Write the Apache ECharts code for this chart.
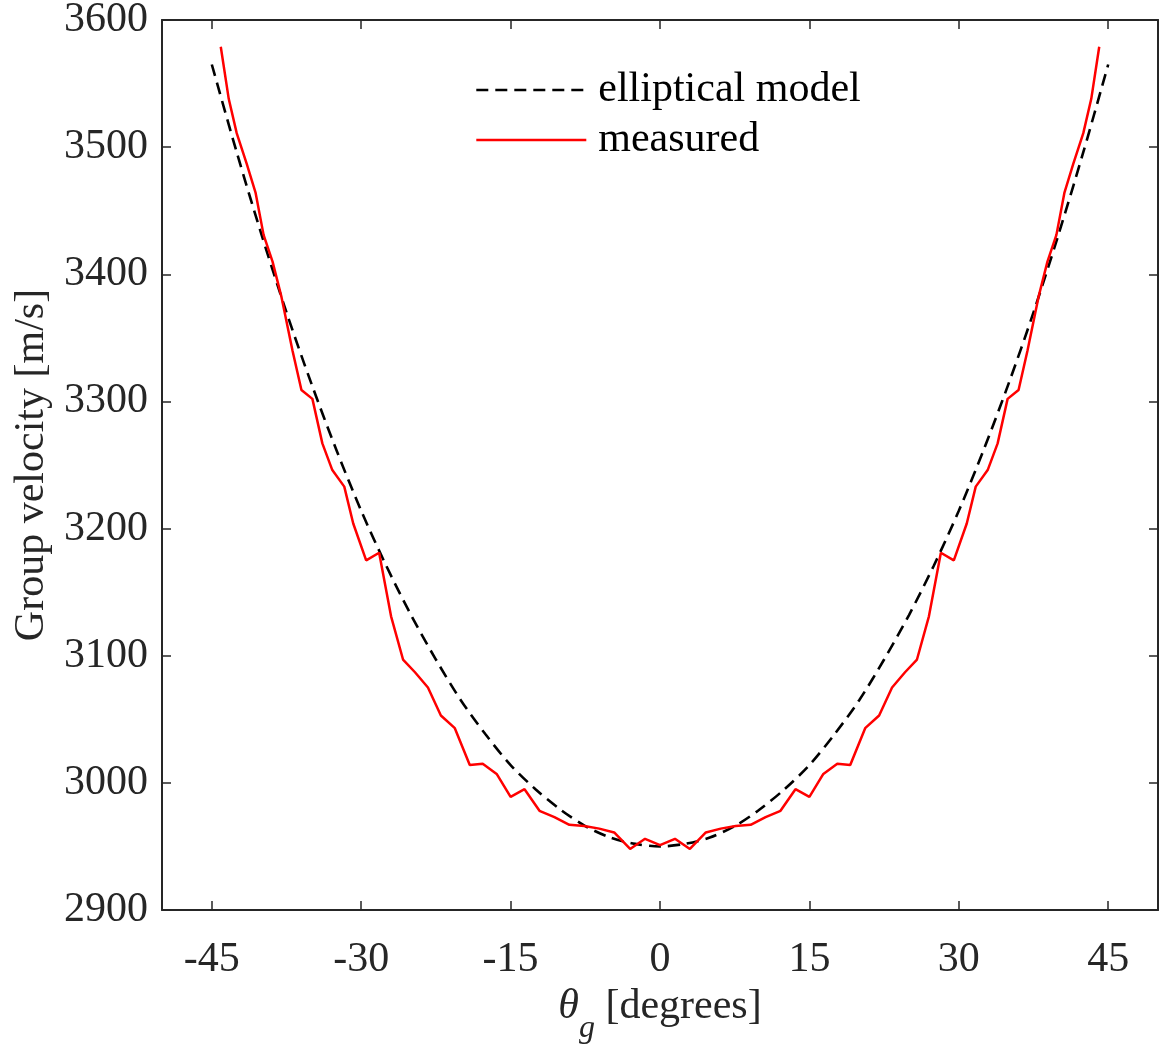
<!DOCTYPE html>
<html>
<head>
<meta charset="utf-8">
<script src="https://cdn.jsdelivr.net/npm/echarts@6/dist/echarts.min.js"></script>
<style>
html,body{margin:0;padding:0;background:#fff;}
#chart{width:1159px;height:1046px;}
</style>
</head>
<body>
<div id="chart"></div>
<script>
// Elliptical model (dashed)
const ellipAngle = [-45,-42.5,-40,-37.5,-35,-32.5,-30,-27.5,-25,-22.5,-20,-17.5,-15,-12.5,-10,-7.5,-5,-2.5,0,2.5,5,7.5,10,12.5,15,17.5,20,22.5,25,27.5,30,32.5,35,37.5,40,42.5,45];
const ellipVel = [3565,3496,3431,3370,3314,3262,3214,3171,3132,3097,3065,3038,3014,2995,2979,2966,2957,2952,2950,2952,2957,2966,2979,2995,3014,3038,3065,3097,3132,3171,3214,3262,3314,3370,3431,3496,3565];

// Measured (red)
const measAngle = [-44.1,-43.3,-42.5,-41.5,-40.6,-39.8,-38.9,-38.0,-36.9,-36.0,-34.9,-33.9,-32.9,-31.7,-30.8,-29.5,-28.2,-27.0,-25.8,-24.6,-23.3,-22.0,-20.6,-19.1,-17.8,-16.4,-15.0,-13.6,-12.1,-10.6,-9.1,-7.6,-6.1,-4.6,-3.0,-1.5,0,
  1.5,3.0,4.6,6.1,7.6,9.1,10.6,12.1,13.6,15.0,16.4,17.8,19.1,20.6,22.0,23.3,24.6,25.8,27.0,28.2,29.5,30.8,31.7,32.9,33.9,34.9,36.0,36.9,38.0,38.9,39.8,40.6,41.5,42.5,43.3,44.1];
const measVel = [3579,3538,3511,3487,3464,3431,3410,3382,3340,3309,3302,3267,3246,3233,3204,3175,3181,3131,3097,3087,3075,3053,3043,3014,3015,3007,2989,2995,2978,2973,2967,2966,2964,2961,2948,2956,2951,
  2956,2948,2961,2964,2966,2967,2973,2978,2995,2989,3007,3015,3014,3043,3053,3075,3087,3097,3131,3181,3175,3204,3233,3246,3267,3302,3309,3340,3382,3410,3431,3464,3487,3511,3538,3579];

const xTicks = [-45,-30,-15,0,15,30,45];
const seriesNames = ['elliptical model','measured'];

const FONT = 'Liberation Serif';
const AX = '#262626';

const chart = echarts.init(document.getElementById('chart'), null, {renderer:'canvas'});

const commonX = {
  type:'value', min:-50, max:50,
  axisLine:{show:true, onZero:false, lineStyle:{color:AX, width:2}},
  axisTick:{show:true, inside:true, length:9, customValues:xTicks, lineStyle:{color:AX, width:1.5}},
  splitLine:{show:false}
};
const commonY = {
  type:'value', min:2900, max:3600, interval:100,
  axisLine:{show:true, onZero:false, lineStyle:{color:AX, width:2}},
  axisTick:{show:true, inside:true, length:9, lineStyle:{color:AX, width:1.5}},
  splitLine:{show:false}
};

const option = {
  backgroundColor:'#ffffff',
  animation:false,
  grid:{left:162, right:1, top:20, bottom:136, containLabel:false, outerBoundsMode:'none'},
  legend:{
    show:true, orient:'vertical', left:470, top:64,
    itemWidth:110, itemHeight:14, itemGap:8,
    itemStyle:{opacity:0},
    lineStyle:{width:2.6},
    data:seriesNames,
    textStyle:{fontFamily:FONT, fontSize:42, color:'#000', lineHeight:42, padding:[0,0,0,7]}
  },
  xAxis:[
    Object.assign({}, commonX, {
      position:'bottom',
      axisLabel:{show:true, customValues:xTicks, margin:29, fontFamily:FONT, fontSize:42, color:AX},
      name:'{t|θ}{s|g}{n| [degrees]}',
      nameLocation:'middle', nameGap:55,
      nameTextStyle:{
        fontFamily:FONT, color:AX,
        rich:{
          t:{fontFamily:FONT, fontStyle:'italic', fontSize:42, color:AX},
          s:{fontFamily:FONT, fontStyle:'italic', fontSize:32, padding:[44,0,0,0], color:AX},
          n:{fontFamily:FONT, fontSize:42, color:AX}
        }
      }
    }),
    Object.assign({}, commonX, {position:'top', axisLabel:{show:false}})
  ],
  yAxis:[
    Object.assign({}, commonY, {
      position:'left',
      axisLabel:{show:true, margin:14, fontFamily:FONT, fontSize:42, color:AX, formatter:(v)=>String(v)},
      name:'Group velocity [m/s]', nameLocation:'middle', nameGap:88,
      nameTextStyle:{fontFamily:FONT, fontSize:42, color:AX}
    }),
    Object.assign({}, commonY, {position:'right', axisLabel:{show:false}})
  ],
  series:[
    {
      name:seriesNames[0], type:'line', xAxisIndex:0, yAxisIndex:0,
      data:ellipAngle.map((a,i)=>[a, ellipVel[i]]),
      showSymbol:false, symbol:'none', smooth:0.3,
      lineStyle:{color:'#000', width:2.6, type:[12,7]},
      itemStyle:{color:'#000'}, z:2
    },
    {
      name:seriesNames[1], type:'line', xAxisIndex:0, yAxisIndex:0,
      data:measAngle.map((a,i)=>[a, measVel[i]]),
      showSymbol:false, symbol:'none',
      lineStyle:{color:'#ff0000', width:2.5},
      itemStyle:{color:'#ff0000'}, z:3
    }
  ]
};
chart.setOption(option);
</script>
</body>
</html>
